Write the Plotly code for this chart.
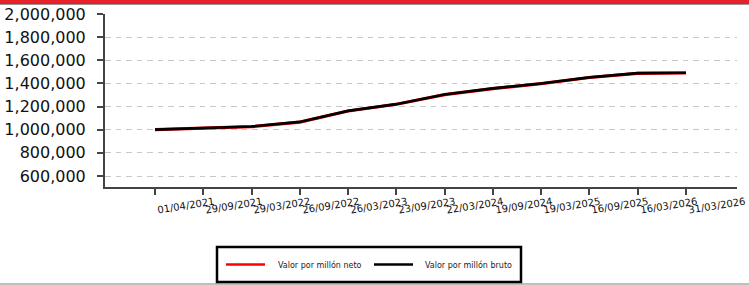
import plotly.graph_objects as go

# ---- data ----
dates = ["01/04/2021", "29/09/2021", "29/03/2022", "26/09/2022", "26/03/2023",
         "23/09/2023", "22/03/2024", "19/09/2024", "19/03/2025", "16/09/2025",
         "16/03/2026", "31/03/2026"]
neto = [1000000, 1014000, 1026000, 1066000, 1162000, 1220000,
        1303000, 1355000, 1399000, 1451000, 1487000, 1490000]
bruto = [1001000, 1015500, 1027500, 1067500, 1163000, 1221000,
         1305000, 1357000, 1400000, 1452000, 1489000, 1492000]
series_names = ["Valor por millón neto", "Valor por millón bruto"]
series_colors = ["#ff0000", "#000000"]
y_ticks = [600000, 800000, 1000000, 1200000, 1400000, 1600000, 1800000, 2000000]

W, H = 749, 285
L, R, T, B = 105, 737, 14, 187  # plot area pixel box


def px(x):
    return (x - L) / (R - L)


def py(y):
    return (B - y) / (B - T)


idx = list(range(len(dates)))

fig = go.Figure()
fig.add_trace(go.Scatter(x=idx, y=neto, mode="lines", name=series_names[0],
                         line=dict(color=series_colors[0], width=3.2)))
fig.add_trace(go.Scatter(x=idx, y=bruto, mode="lines", name=series_names[1],
                         line=dict(color=series_colors[1], width=2.6)))

fig.update_layout(
    width=W, height=H,
    margin=dict(l=L, r=W - R, t=T, b=H - B, pad=0, autoexpand=False),
    paper_bgcolor="white", plot_bgcolor="white",
    showlegend=False,
    font=dict(family="DejaVu Sans", color="#111"),
)
fig.update_xaxes(
    automargin=False,
    range=[-1.036, 12.057], tickvals=idx, showticklabels=False,
    ticks="outside", ticklen=6, tickwidth=1.5, tickcolor="#444",
    showline=True, linecolor="#444", linewidth=2, showgrid=False, zeroline=False,
)
fig.update_yaxes(
    automargin=False,
    range=[505000, 2000000], tickvals=y_ticks, tickformat=",d",
    ticks="outside", ticklen=6, tickwidth=1.5, tickcolor="#444",
    ticklabelstandoff=8,
    showline=True, linecolor="#444", linewidth=2,
    showgrid=True, gridcolor="#c8c8c8", gridwidth=1, griddash="5.5px,5px",
    zeroline=False, tickfont=dict(size=16, color="#111"),
)

# rotated x tick labels
for i, d in enumerate(dates):
    fig.add_annotation(x=i, y=0, xref="x", yref="paper", text=d, showarrow=False,
                       textangle=-9, xanchor="left", yanchor="top", yshift=-6,
                       xshift=-1, font=dict(size=10, color="#111"))

shapes = []
# top red bar and dark rule
shapes.append(dict(type="rect", xref="paper", yref="paper", x0=px(0), x1=px(W),
                   y0=py(0), y1=py(3.3), fillcolor="#e8222a", line=dict(width=0)))
shapes.append(dict(type="line", xref="paper", yref="paper", x0=px(0), x1=px(W),
                   y0=py(3.9), y1=py(3.9), line=dict(color="#333", width=1.3)))
# bottom gray rule
shapes.append(dict(type="line", xref="paper", yref="paper", x0=px(0), x1=px(W),
                   y0=py(284), y1=py(284), line=dict(color="#aaaaaa", width=1.5)))
# legend box
shapes.append(dict(type="rect", xref="paper", yref="paper", x0=px(217), x1=px(521),
                   y0=py(282), y1=py(247), fillcolor="white",
                   line=dict(color="black", width=2.5)))
# legend samples
leg_lines = [(226, 265, 276), (374, 413, 423)]
for (x0, x1, tx), name, col in zip(leg_lines, series_names, series_colors):
    shapes.append(dict(type="line", xref="paper", yref="paper", x0=px(x0), x1=px(x1),
                       y0=py(264.5), y1=py(264.5), line=dict(color=col, width=2.5)))
    fig.add_annotation(x=px(tx), y=py(264.5), xref="paper", yref="paper", text=name,
                       showarrow=False, xanchor="left", yanchor="middle",
                       font=dict(size=8, color="#222"))
fig.update_layout(shapes=shapes)

fig.write_html("out.html", config={"displayModeBar": False},
               post_script="document.body.style.margin='0';")
